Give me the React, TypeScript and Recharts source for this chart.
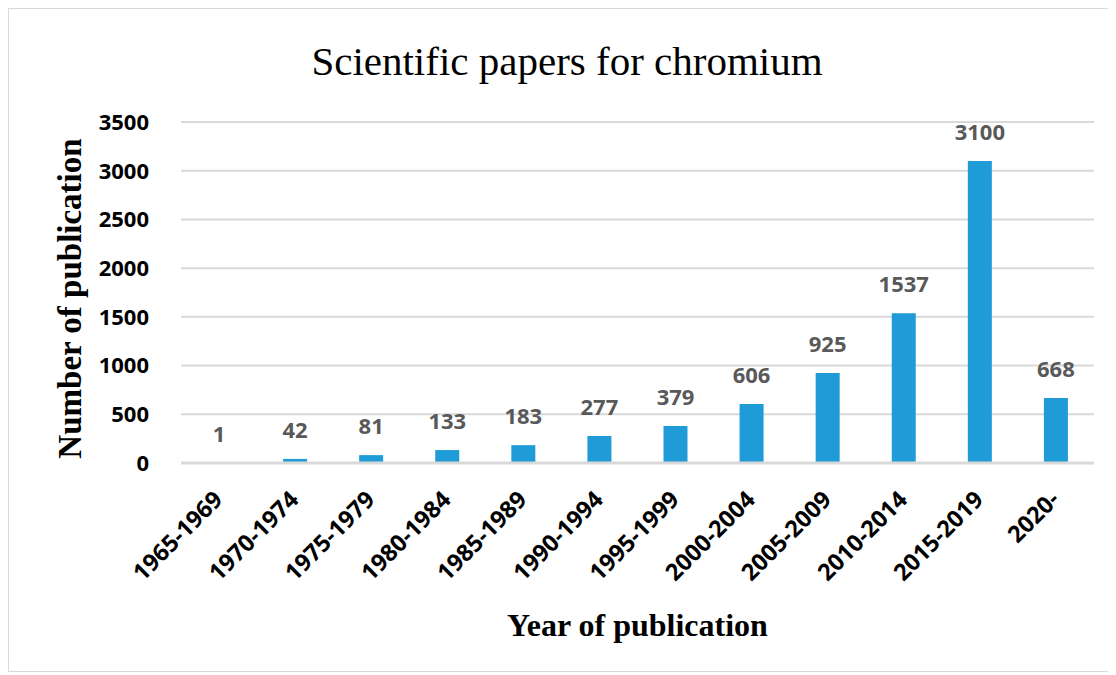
import { ComposedChart, Bar, XAxis, YAxis, CartesianGrid, LabelList } from "recharts";

const periods = [
  "1965-1969",
  "1970-1974",
  "1975-1979",
  "1980-1984",
  "1985-1989",
  "1990-1994",
  "1995-1999",
  "2000-2004",
  "2005-2009",
  "2010-2014",
  "2015-2019",
  "2020-",
];
const papers = [1, 42, 81, 133, 183, 277, 379, 606, 925, 1537, 3100, 668];
const yTicks = [0, 500, 1000, 1500, 2000, 2500, 3000, 3500];

const data = periods.map((p, i) => ({ period: p, count: papers[i] }));

const tickFont = "'Open Sans', 'Liberation Sans', sans-serif";
const serif = "'Liberation Serif', 'DejaVu Serif', serif";

// rotated category label, end of text sits just right of the bar, under the axis
function XTick(props: any) {
  const { x, y, payload } = props;
  return (
    <g transform={`translate(${x + 5},${y + 38})`}>
      <text
        x={0}
        y={0}
        transform="rotate(-45)"
        textAnchor="end"
        fontFamily={tickFont}
        fontWeight={700}
        fontSize={23.5}
        fill="#000"
      >
        {payload.value}
      </text>
    </g>
  );
}

function YLabel(props: any) {
  const { viewBox } = props;
  const cx = viewBox.x + 41;
  const cy = viewBox.y + viewBox.height / 2 + 6;
  return (
    <text
      x={cx}
      y={cy}
      transform={`rotate(-90 ${cx} ${cy})`}
      textAnchor="middle"
      dominantBaseline="central"
      fontFamily={serif}
      fontWeight={700}
      fontSize={33}
      fill="#000"
    >
      Number of publication
    </text>
  );
}

function XLabel(props: any) {
  const { viewBox } = props;
  return (
    <text
      x={viewBox.x + viewBox.width / 2}
      y={viewBox.y + 173}
      textAnchor="middle"
      fontFamily={serif}
      fontWeight={700}
      fontSize={32}
      fill="#000"
    >
      Year of publication
    </text>
  );
}

export default function App() {
  return (
    <div
      style={{
        position: "relative",
        width: 1106,
        height: 662,
        border: "1px solid #d9d9d9",
        background: "#fff",
      }}
    >
      <div
        style={{
          position: "absolute",
          top: 28,
          left: 5,
          width: 1106,
          textAlign: "center",
          fontFamily: serif,
          fontSize: 41,
          color: "#000",
        }}
      >
        Scientific papers for chromium
      </div>
      <ComposedChart
        width={1106}
        height={662}
        data={data}
        margin={{ top: 113, right: 21, bottom: 20, left: 20 }}
      >
        <CartesianGrid vertical={false} stroke="#d9d9d9" strokeWidth={2} />
        <XAxis
          dataKey="period"
          height={188}
          tickLine={false}
          tickSize={0}
          tickMargin={0}
          axisLine={{ stroke: "#d9d9d9", strokeWidth: 3 }}
          tick={XTick}
          interval={0}
          label={<XLabel />}
        />
        <YAxis
          width={152}
          domain={[0, 3500]}
          ticks={yTicks}
          tickLine={false}
          axisLine={false}
          tickMargin={26}
          tick={{
            fontFamily: tickFont,
            fontWeight: 700,
            fontSize: 22,
            fill: "#000",
          }}
          label={<YLabel />}
        />
        <Bar dataKey="count" fill="#1f9bd7" barSize={24} isAnimationActive={false}>
          <LabelList
            dataKey="count"
            position="top"
            offset={21}
            fontFamily={tickFont}
            fontWeight={700}
            fontSize={22}
            fill="#595959"
          />
        </Bar>
      </ComposedChart>
    </div>
  );
}
